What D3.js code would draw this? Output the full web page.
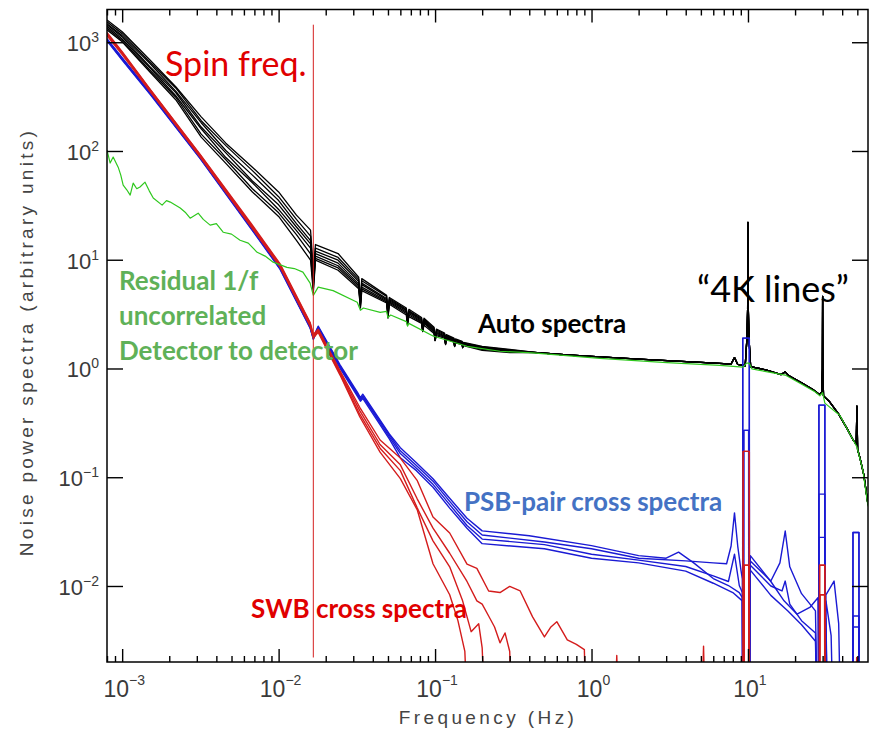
<!DOCTYPE html>
<html>
<head>
<meta charset="utf-8">
<script src="https://cdn.jsdelivr.net/npm/d3@7"></script>
<style>
  body { margin: 0; background: #fff; }
</style>
</head>
<body>
<svg id="chart" width="877" height="734"></svg>
<script>
// [A] Datos ---------------------------------------------------------------
const xTickExps = ["−3", "−2", "−1", "0", "1"];
const xMajorTicks = [1e-3, 1e-2, 1e-1, 1, 10];
const yTickExps = ["−2", "−1", "0", "1", "2", "3"];
const yMajorTicks = [1e-2, 1e-1, 1, 10, 100, 1000];
const spinFreq = 1 / 60;
const spinLineSpan = [1450, 0.0022];
const belowAxis = 1e-4; // valores recortados bajo el eje

// [A.1] Auto spectra (negro): parte de baja frecuencia, una fila por detector
const blackLowFreq = [8.0e-4, 1.0e-3, 1.5e-3, 2.2e-3, 3.2e-3, 4.6e-3, 6.8e-3, 1.0e-2, 1.3e-2, 1.6e-2,
  1.667e-2, 1.72e-2, 2.4e-2, 3.25e-2, 3.333e-2, 3.4e-2, 4.9e-2, 5.0e-2, 5.1e-2, 6.55e-2,
  6.667e-2, 6.8e-2, 8.2e-2, 8.333e-2, 8.5e-2, 9.85e-2, 0.1, 0.102, 0.115, 0.1167,
  0.118, 0.132, 0.1333, 0.135, 0.149, 0.15, 0.152, 0.2, 0.3];
const blackLow = [
  [1600, 1250, 690, 390, 206, 118, 71, 42, 25.7, 18.7, 8.0, 13.8, 11.4, 6.9, 4.2, 6.7, 4.7, 3.3, 4.5, 3.6, 2.77, 3.5, 2.94, 2.3, 2.9, 2.4, 1.86, 2.3, 2.12, 1.72, 2.05, 1.9, 1.63, 1.87, 1.78, 1.58, 1.74, 1.6, 1.5],
  [1540, 1200, 660, 380, 190, 112, 66, 38, 23.5, 16.5, 7.2, 12.8, 10.5, 6.6, 4.1, 6.4, 4.6, 3.25, 4.4, 3.5, 2.72, 3.4, 2.88, 2.28, 2.84, 2.35, 1.85, 2.25, 2.08, 1.71, 2.02, 1.87, 1.62, 1.84, 1.76, 1.58, 1.72, 1.58, 1.48],
  [1480, 1150, 640, 355, 182, 101, 60, 35, 21.5, 15, 6.6, 12.0, 9.9, 6.3, 4.0, 6.1, 4.4, 3.2, 4.3, 3.45, 2.68, 3.35, 2.82, 2.26, 2.78, 2.3, 1.84, 2.2, 2.04, 1.70, 1.99, 1.85, 1.62, 1.82, 1.74, 1.57, 1.7, 1.56, 1.47],
  [1450, 1120, 600, 345, 166, 96, 53, 32, 20, 14, 6.2, 11.4, 9.3, 6.0, 3.9, 5.9, 4.3, 3.1, 4.2, 3.4, 2.64, 3.3, 2.76, 2.24, 2.72, 2.25, 1.83, 2.15, 2.0, 1.69, 1.96, 1.83, 1.61, 1.8, 1.72, 1.57, 1.68, 1.54, 1.46],
  [1400, 1070, 585, 322, 160, 87, 51, 29, 18.5, 12.8, 5.8, 10.8, 8.8, 5.8, 3.8, 5.6, 4.2, 3.05, 4.1, 3.3, 2.6, 3.2, 2.7, 2.22, 2.66, 2.2, 1.82, 2.1, 1.97, 1.68, 1.93, 1.8, 1.6, 1.77, 1.7, 1.56, 1.66, 1.52, 1.44],
  [1350, 1040, 555, 312, 143, 83, 45, 27, 17, 11.3, 5.4, 10.3, 8.4, 5.6, 3.7, 5.4, 4.1, 3.0, 4.0, 3.2, 2.55, 3.1, 2.65, 2.2, 2.6, 2.15, 1.81, 2.05, 1.94, 1.67, 1.9, 1.78, 1.6, 1.75, 1.68, 1.56, 1.64, 1.5, 1.42],
  [1300, 1010, 535, 296, 134, 77, 42, 25, 15.1, 9.9, 5.0, 9.9, 8.0, 5.4, 3.6, 5.2, 4.0, 2.9, 3.9, 3.1, 2.5, 3.0, 2.6, 2.18, 2.5, 2.1, 1.8, 2.0, 1.9, 1.66, 1.87, 1.75, 1.59, 1.72, 1.66, 1.55, 1.62, 1.47, 1.4]
];
// [A.2] Auto spectra: cola común de alta frecuencia ("4K lines")
const blackTailFreq = [0.45, 0.7, 1, 2, 3.5, 5, 7, 7.8, 8.2, 8.6, 9.6, 9.85, 9.95, 10.0, 10.05, 10.15, 10.4,
  13, 16.3, 17.3, 18.2, 22, 26, 28.5, 29.6, 29.9, 30.0, 30.1, 30.4, 33, 38, 43, 47, 49.2, 49.7, 50.2, 52, 55, 58.5];
const blackTail = [1.40, 1.33, 1.29, 1.22, 1.17, 1.14, 1.11, 1.1, 1.26, 1.09, 1.06, 1.9, 3.5, 22, 3.5, 1.9, 1.04,
  0.97, 0.88, 0.93, 0.86, 0.74, 0.64, 0.58, 0.6, 1.0, 4.6, 1.0, 0.56, 0.5, 0.38, 0.28, 0.22, 0.2, 0.45, 0.18, 0.15, 0.105, 0.056];

// [A.3] Residuo 1/f (verde)
const greenFreq = [8.0e-4, 8.38e-4, 8.76e-4, 9.43e-4, 9.8e-4, 1.015e-3, 1.07e-3, 1.125e-3, 1.176e-3, 1.24e-3, 1.30e-3,
  1.40e-3, 1.49e-3, 1.58e-3, 1.8e-3, 1.92e-3, 2.03e-3, 2.35e-3, 2.55e-3, 2.72e-3, 3.06e-3, 3.3e-3, 3.65e-3, 4.0e-3,
  4.42e-3, 5.0e-3, 5.67e-3, 6.4e-3, 7.29e-3, 8.2e-3, 9.23e-3, 1.13e-2, 1.26e-2, 1.43e-2, 1.59e-2, 1.667e-2, 1.79e-2,
  2.23e-2, 3.18e-2, 3.333e-2, 3.48e-2, 4.46e-2, 4.9e-2, 5.0e-2, 5.2e-2, 6.55e-2, 6.667e-2, 6.8e-2, 9.7e-2,
  0.16, 0.26, 0.42, 1.13, 3.03, 6.62, 9.3, 9.8, 10.2, 10.6, 11.9, 17.3, 21.5, 26.8, 28.8, 30, 31, 38.7, 43.5, 49.7, 54.3, 58.5];
const greenVals = [102, 77.5, 88, 71, 60, 48.6, 44, 39.3, 50.7, 45, 46.6,
  51.7, 43, 36.9, 31.8, 35, 33.9, 29.9, 27, 24.1, 26.8, 23.5, 20.8, 21.5,
  17.9, 17.2, 15.1, 14.2, 11.7, 10.8, 9.5, 8.5, 8.3, 7.7, 6.1, 4.7, 5.6,
  5.2, 4.06, 3.43, 3.6, 3.28, 3.35, 2.94, 3.1, 2.7, 2.45, 2.6, 1.99,
  1.6, 1.44, 1.39, 1.24, 1.13, 1.07, 1.03, 1.12, 1.12, 0.99, 0.96, 0.87, 0.73, 0.61, 0.56, 0.6, 0.48, 0.37, 0.27, 0.19, 0.115, 0.054];

// [A.4] PSB-pair cross spectra (azul)
const blueLowFreq = [8.0e-4, 1.0e-3, 1.5e-3, 3.15e-3, 6.6e-3, 1.02e-2, 1.59e-2, 1.667e-2, 1.79e-2, 2.47e-2,
  3.2e-2, 3.333e-2, 3.45e-2, 5.1e-2, 6.0e-2, 7.6e-2, 9.7e-2, 0.124, 0.16];
const blueLow = [
  [1080, 720, 350, 88, 20.5, 8.6, 2.45, 1.95, 2.45, 1.08, 0.6, 0.54, 0.58, 0.25, 0.187, 0.136, 0.097, 0.064, 0.042],
  [1060, 705, 345, 87, 20.2, 8.4, 2.4, 1.9, 2.4, 1.05, 0.58, 0.52, 0.56, 0.245, 0.175, 0.128, 0.092, 0.06, 0.039],
  [1045, 695, 340, 86, 20, 8.3, 2.38, 1.88, 2.38, 1.03, 0.57, 0.51, 0.55, 0.235, 0.165, 0.121, 0.086, 0.056, 0.036],
  [1030, 685, 335, 85, 19.7, 8.2, 2.35, 1.85, 2.35, 1.0, 0.55, 0.5, 0.53, 0.225, 0.151, 0.115, 0.081, 0.052, 0.034]
];
const blueTailFreq = [
  [0.2, 0.4, 1, 2, 3, 3.6, 4.5, 6, 7.5, 8.8, 9.2, 9.24, 9.26, 10.2, 10.22, 10.35, 14, 17, 20.6, 25, 28, 28.35, 28.4, 31.0, 31.05, 31.5, 34, 36, 46.8, 46.9, 51.2, 51.3, 58.5],
  [0.2, 0.5, 1, 2, 4, 6, 7.3, 7.8, 8.2, 8.6, 9.0, 9.2, 9.38, 9.4, 10.1, 10.12, 10.35, 14, 16, 17.3, 18.5, 22, 27, 28.35, 28.4, 31.0, 31.05, 31.5, 35.5, 38, 40, 46.8, 46.9, 51.2, 51.3, 58.5],
  [0.2, 0.5, 1, 2, 4, 6, 7.5, 8.2, 8.8, 9.2, 9.24, 9.26, 10.2, 10.22, 10.35, 14, 16.5, 17.3, 18.5, 22, 27, 28.35, 28.4, 31.0, 31.05, 31.5, 33, 46.8, 46.9, 51.2, 51.3, 58.5],
  [0.2, 0.5, 1, 2, 4, 6, 8, 9.2, 9.38, 9.4, 10.1, 10.12, 10.35, 14, 18, 22, 27, 28.35, 28.4, 31.0, 31.05, 31.5, 33, 46.8, 46.9, 51.2, 51.3, 58.5]
];
const blueTail = [
  [0.0321, 0.029, 0.0235, 0.019, 0.018, 0.0205, 0.0163, 0.0117, 0.0101, 0.0087, 0.0078, belowAxis, 1.9, 1.9, belowAxis, 0.019, 0.011, 0.0073, 0.0055, 0.0064, 0.0078, belowAxis, 0.46, 0.46, belowAxis, 0.0073, 0.0035, belowAxis, belowAxis, 0.031, 0.031, belowAxis, belowAxis],
  [0.0294, 0.0254, 0.022, 0.018, 0.017, 0.0163, 0.016, 0.0233, 0.047, 0.0233, 0.0143, 0.0116, belowAxis, 0.27, 0.27, belowAxis, 0.017, 0.0111, 0.0163, 0.032, 0.015, 0.0085, 0.0059, belowAxis, 0.07, 0.07, belowAxis, 0.0083, 0.0111, 0.0045, belowAxis, belowAxis, 0.0053, 0.0053, belowAxis, belowAxis],
  [0.027, 0.024, 0.0196, 0.0173, 0.0151, 0.0124, 0.011, 0.0196, 0.0101, 0.0087, belowAxis, 1.9, 1.9, belowAxis, 0.0155, 0.01, 0.009, 0.0111, 0.0068, 0.0048, 0.0037, belowAxis, 0.028, 0.028, belowAxis, 0.005, belowAxis, belowAxis, 0.0042, 0.0042, belowAxis, belowAxis],
  [0.0245, 0.022, 0.018, 0.0163, 0.0137, 0.0106, 0.0087, 0.0073, belowAxis, 0.27, 0.27, belowAxis, 0.014, 0.0082, 0.0059, 0.0044, 0.0031, belowAxis, 0.46, 0.46, belowAxis, 0.004, belowAxis, belowAxis, 0.031, 0.031, belowAxis, belowAxis]
];

// [A.5] SWB cross spectra (rojo)
const redLowFreq = [8.0e-4, 1.0e-3, 1.5e-3, 3.15e-3, 6.6e-3, 1.02e-2, 1.59e-2, 1.667e-2, 1.79e-2, 2.47e-2, 3.3e-2, 4.45e-2, 6.0e-2];
const redLow = [
  [1230, 820, 375, 93, 22, 9.2, 2.65, 2.05, 2.3, 0.95, 0.44, 0.22, 0.15],
  [1200, 800, 370, 92, 21.5, 9.0, 2.6, 2.0, 2.25, 0.92, 0.41, 0.2, 0.13],
  [1170, 790, 365, 90, 21, 8.8, 2.5, 1.95, 2.2, 0.89, 0.38, 0.185, 0.115],
  [1150, 770, 355, 88, 20.5, 8.6, 2.45, 1.9, 2.15, 0.87, 0.36, 0.17, 0.097]
];
const redTailFreq = [
  [0.077, 0.097, 0.124, 0.16, 0.185, 0.22, 0.26, 0.3, 0.35, 0.42, 0.5, 0.55, 0.6, 0.7, 0.8, 0.9, 0.95, 1.35, 1.45, 1.55, 4.9, 5.2, 5.5, 9.3, 9.32, 10.2, 10.22, 28.6, 28.7, 31.0, 31.1, 49, 49.5, 50, 58.5],
  [0.077, 0.097, 0.124, 0.16, 0.185, 0.2, 0.22, 0.24, 0.26, 0.28, 0.3, 0.32, 9.45, 9.47, 10.15, 10.17, 28.6, 28.7, 30.9, 31.0, 58.5],
  [0.077, 0.097, 0.124, 0.15, 0.17, 0.19, 0.2, 0.22, 9.45, 9.47, 10.15, 10.17, 28.8, 28.9, 30.9, 31.0, 58.5],
  [0.077, 0.097, 0.124, 0.14, 0.155, 0.17, 9.3, 9.32, 10.2, 10.22, 28.6, 28.7, 31.0, 31.1, 58.5]
];
const redTail = [
  [0.093, 0.043, 0.0307, 0.0159, 0.0145, 0.009, 0.0087, 0.0099, 0.009, 0.0052, 0.0034, 0.0042, 0.0047, 0.0032, 0.0029, 0.0026, belowAxis, belowAxis, 0.0023, belowAxis, belowAxis, 0.0028, belowAxis, belowAxis, 0.173, 0.173, belowAxis, belowAxis, 0.0155, 0.0155, belowAxis, belowAxis, 0.0022, belowAxis, belowAxis],
  [0.063, 0.034, 0.02, 0.011, 0.0073, 0.0068, 0.0053, 0.0042, 0.003, 0.0037, 0.0025, belowAxis, belowAxis, 0.0155, 0.0155, belowAxis, belowAxis, 0.0083, 0.0083, belowAxis, belowAxis],
  [0.052, 0.026, 0.015, 0.0073, 0.0038, 0.0045, 0.0027, belowAxis, belowAxis, 0.0155, 0.0155, belowAxis, belowAxis, 0.0083, 0.0083, belowAxis, belowAxis],
  [0.05, 0.016, 0.0083, 0.0048, 0.0025, belowAxis, belowAxis, 0.173, 0.173, belowAxis, belowAxis, 0.0155, 0.0155, belowAxis, belowAxis]
];

// [A.6] Textos
const xTitle = "Frequency (Hz)";
const yTitle = "Noise power spectra (arbitrary units)";
const spinLabel = "Spin freq.";
const residualLines = ["Residual 1/f", "uncorrelated", "Detector to detector"];
const autoLabel = "Auto spectra";
const linesLabel = "\u201C4K lines\u201D";
const psbLabel = "PSB-pair cross spectra";
const swbLabel = "SWB cross spectra";

// [B] Configuración ---------------------------------------------------------
const plot = { left: 107, right: 868, top: 9.5, bottom: 662 };

const x = d3.scaleLog().domain([8.0e-4, 58.5]).range([plot.left, plot.right]);
const y = d3.scaleLog().domain([2.0e-3, 2.0e3]).range([plot.bottom, plot.top]);

const svg = d3.select("#chart");

svg.append("defs").append("clipPath").attr("id", "plotClip")
  .append("rect")
  .attr("x", plot.left).attr("y", plot.top)
  .attr("width", plot.right - plot.left).attr("height", plot.bottom - plot.top);

const line = d3.line().x(d => x(d[0])).y(d => y(d[1]));

function joinSeries(freqA, valsA, freqB, valsB) {
  const a = freqA.map((f, i) => [f, valsA[i]]);
  const b = freqB.map((f, i) => [f, valsB[i]]);
  return a.concat(b);
}

const blackSeries = blackLow.map(vals => joinSeries(blackLowFreq, vals, blackTailFreq, blackTail));
const blueSeries = blueLow.map((vals, k) => joinSeries(blueLowFreq, vals, blueTailFreq[k], blueTail[k]));
const redSeries = redLow.map((vals, k) => joinSeries(redLowFreq, vals, redTailFreq[k], redTail[k]));
const greenSeries = greenFreq.map((f, i) => [f, greenVals[i]]);

// [C] Curvas ----------------------------------------------------------------
const curves = svg.append("g").attr("clip-path", "url(#plotClip)");

function drawGroup(data, color, w) {
  curves.append("g").selectAll("path")
    .data(data)
    .join("path")
    .attr("d", line)
    .attr("fill", "none")
    .attr("stroke", color)
    .attr("stroke-width", w)
    .attr("stroke-linejoin", "round");
}

drawGroup(blackSeries, "#000000", 1.3);
drawGroup(blueSeries, "#1a1ad4", 1.4);
drawGroup(redSeries, "#d41c1c", 1.4);
drawGroup([greenSeries], "#2fc81e", 1.2);

// [C.1] Línea de la frecuencia de giro
svg.append("line")
  .attr("x1", x(spinFreq)).attr("x2", x(spinFreq))
  .attr("y1", y(spinLineSpan[0])).attr("y2", y(spinLineSpan[1]))
  .attr("stroke", "#d42020").attr("stroke-width", 1);

// [D] Ejes ------------------------------------------------------------------
const minorX = x.ticks().filter(t => !xMajorTicks.some(m => Math.abs(m - t) / m < 1e-6));

function tickGroup(axis) {
  const g = svg.append("g").call(axis);
  g.select(".domain").remove();
  g.selectAll(".tick line").attr("stroke", "#000").attr("stroke-width", 1.4);
  return g;
}

tickGroup(d3.axisBottom(x).tickValues(xMajorTicks).tickSize(-13).tickFormat(""))
  .attr("transform", `translate(0,${plot.bottom})`);
tickGroup(d3.axisBottom(x).tickValues(minorX).tickSize(-6).tickFormat(""))
  .attr("transform", `translate(0,${plot.bottom})`);
tickGroup(d3.axisTop(x).tickValues(xMajorTicks).tickSize(-13).tickFormat(""))
  .attr("transform", `translate(0,${plot.top})`);
tickGroup(d3.axisTop(x).tickValues(minorX).tickSize(-6).tickFormat(""))
  .attr("transform", `translate(0,${plot.top})`);
tickGroup(d3.axisLeft(y).tickValues(yMajorTicks).tickSize(-16).tickFormat(""))
  .attr("transform", `translate(${plot.left},0)`);
tickGroup(d3.axisRight(y).tickValues(yMajorTicks).tickSize(-16).tickFormat(""))
  .attr("transform", `translate(${plot.right},0)`);

svg.append("rect")
  .attr("x", plot.left).attr("y", plot.top)
  .attr("width", plot.right - plot.left).attr("height", plot.bottom - plot.top)
  .attr("fill", "none").attr("stroke", "#000").attr("stroke-width", 1.5);

// [D.1] Etiquetas de potencias de diez
const labelFont = "'Liberation Sans', Arial, sans-serif";

function powerLabel(g, exp, lift) {
  g.append("tspan").text("10");
  g.append("tspan").attr("dy", -lift).attr("font-size", 14).text(exp);
}

xMajorTicks.forEach((t, i) => {
  const tx = svg.append("text")
    .attr("x", x(t) + 2).attr("y", 697)
    .attr("text-anchor", "middle")
    .attr("font-family", labelFont).attr("font-size", 23)
    .attr("fill", "#3a3a3a");
  powerLabel(tx, xTickExps[i], 12);
});

yMajorTicks.forEach((t, i) => {
  const ty = svg.append("text")
    .attr("x", 99).attr("y", y(t) + 9)
    .attr("text-anchor", "end")
    .attr("font-family", labelFont).attr("font-size", 22)
    .attr("fill", "#3a3a3a");
  powerLabel(ty, yTickExps[i], 9);
});

// [D.2] Títulos de ejes
svg.append("text")
  .attr("x", 488).attr("y", 724)
  .attr("text-anchor", "middle")
  .attr("font-family", labelFont).attr("font-size", 19)
  .attr("letter-spacing", 3.4)
  .attr("fill", "#444")
  .text(xTitle);

svg.append("text")
  .attr("transform", "translate(33,342) rotate(-90)")
  .attr("text-anchor", "middle")
  .attr("font-family", labelFont).attr("font-size", 19)
  .attr("letter-spacing", 3.3)
  .attr("fill", "#444")
  .text(yTitle);

// [E] Anotaciones -----------------------------------------------------------
const noteFont = "Lato, 'Open Sans', sans-serif";

function note(txt, px, py, size, color, weight) {
  svg.append("text")
    .attr("x", px).attr("y", py)
    .attr("font-family", noteFont).attr("font-size", size)
    .attr("font-weight", weight).attr("fill", color)
    .text(txt);
}

note(spinLabel, 165, 76, 34, "#e00000", 400);
residualLines.forEach((t, i) => note(t, 119, 290 + i * 35, 26, "#5fb158", 700));
note(autoLabel, 478, 333, 26, "#000000", 700);
note(linesLabel, 697, 302, 36, "#000000", 400);
note(psbLabel, 464, 511, 26, "#4472c4", 700);
note(swbLabel, 251, 618, 26, "#e00000", 700);
</script>
</body>
</html>
